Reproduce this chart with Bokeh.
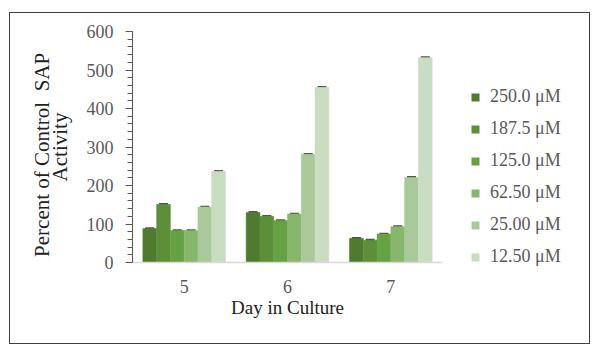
from bokeh.plotting import figure
from bokeh.layouts import row
from bokeh.models import (ColumnDataSource, FactorRange, Legend, LegendItem, Whisker,
                          FixedTicker)
from bokeh.transform import dodge
from bokeh.embed import file_html
from bokeh.resources import INLINE

days = ["5", "6", "7"]
series = ["250.0 \u03bcM", "187.5 \u03bcM", "125.0 \u03bcM", "62.50 \u03bcM", "25.00 \u03bcM", "12.50 \u03bcM"]
v250 = [88, 130, 63]
v187 = [151, 120, 58]
v125 = [83, 109, 74]
v62 = [83, 126, 93]
v25 = [144, 281, 221]
v12 = [237, 455, 532]
err = [1.5, 1.5, 1.5]
colors = ["#4f7a30", "#5c8f38", "#67a242", "#87b76c", "#a9c99a", "#c9ddc0"]
values = [v250, v187, v125, v62, v25, v12]

FONT = "Liberation Serif"
TXT = "#595959"

p = figure(width=440, height=330, x_range=FactorRange(*days), y_range=(0, 600),
           output_backend="svg", toolbar_location=None,
           min_border_left=122, min_border_right=8, min_border_top=18, min_border_bottom=81)
p.frame_align = False
p.x_range.range_padding = 0
p.x_range.factor_padding = 0
p.grid.visible = False
p.outline_line_color = None
p.background_fill_color = "white"
p.border_fill_color = "white"

bw = 0.1333
offsets = [-0.3333, -0.2, -0.0667, 0.0667, 0.2, 0.3333]
for name, vals, col, off in zip(series, values, colors, offsets):
    src = ColumnDataSource(dict(day=days, v=vals,
                                lo=[a - e for a, e in zip(vals, err)],
                                hi=[a + e for a, e in zip(vals, err)]))
    p.vbar(x=dodge("day", off, range=p.x_range), top="v", width=bw, source=src,
           fill_color=col, line_color=col, line_width=0.5)
    w = Whisker(base=dodge("day", off, range=p.x_range), upper="hi", lower="lo", source=src,
                line_color="#505050", line_width=1)
    for head in (w.upper_head, w.lower_head):
        head.size = 9
        head.line_color = "#505050"
        head.line_width = 1.5
    p.add_layout(w)

# y axis
p.yaxis.ticker = FixedTicker(ticks=[0, 100, 200, 300, 400, 500, 600],
                             minor_ticks=list(range(0, 601, 20)))
p.yaxis.axis_line_color = "#595959"
p.yaxis.major_tick_line_color = "#595959"
p.yaxis.minor_tick_line_color = "#595959"
p.yaxis.major_tick_in = 0
p.yaxis.major_tick_out = 7
p.yaxis.minor_tick_in = 0
p.yaxis.minor_tick_out = 5
p.yaxis.major_label_standoff = 12
p.yaxis.major_label_text_font = FONT
p.yaxis.major_label_text_font_size = "18px"
p.yaxis.major_label_text_color = TXT
p.yaxis.axis_label = "Percent of Control\u00a0 SAP\u00a0\u00a0\u00a0\nActivity"
p.yaxis.axis_label_text_font = FONT
p.yaxis.axis_label_text_font_size = "21px"
p.yaxis.axis_label_text_line_height = 0.75
p.yaxis.axis_label_text_font_style = "normal"
p.yaxis.axis_label_text_color = "#222222"
p.yaxis.axis_label_standoff = 12

# x axis
p.xaxis.axis_line_color = "#d9d9d9"
p.xaxis.axis_line_width = 1.5
p.xaxis.major_tick_line_color = None
p.xaxis.minor_tick_line_color = None
p.xaxis.major_label_standoff = 11
p.xaxis.major_label_text_font = FONT
p.xaxis.major_label_text_font_size = "18px"
p.xaxis.major_label_text_color = TXT
p.xaxis.axis_label = "Day in Culture"
p.xaxis.axis_label_text_font = FONT
p.xaxis.axis_label_text_font_size = "19px"
p.xaxis.axis_label_text_font_style = "normal"
p.xaxis.axis_label_text_color = "#222222"
p.xaxis.axis_label_standoff = 1

# legend panel (separate figure to the right)
q = figure(width=139, height=330, x_range=(0, 1), y_range=(0, 1),
           output_backend="svg", toolbar_location=None,
           min_border=0, min_border_left=0, min_border_right=0, min_border_top=0, min_border_bottom=0)
q.frame_align = False
q.axis.visible = False
q.grid.visible = False
q.outline_line_color = None
q.border_fill_color = "white"
q.background_fill_color = "white"
items = []
for name, col in zip(series, colors):
    r = q.vbar(x=[0.5], bottom=[0.5], top=[0.5], width=0, fill_color=col,
               line_color=col, line_alpha=0)
    items.append(LegendItem(label=name, renderers=[r]))
legend = Legend(items=items, location="top_left", padding=0, margin=20, spacing=11,
                glyph_width=10, glyph_height=10, label_height=20, label_standoff=10,
                label_text_font=FONT, label_text_font_size="18px", label_text_color=TXT,
                title=" ", title_text_font_size="10px", title_standoff=42,
                border_line_color=None, background_fill_alpha=0)
q.add_layout(legend, "center")

layout = row(p, q)
layout.margin = (12, 0, 0, 9)
layout.styles = {"border": "1px solid #404040", "background-color": "white"}

open("out.html", "w").write(file_html(layout, INLINE))
